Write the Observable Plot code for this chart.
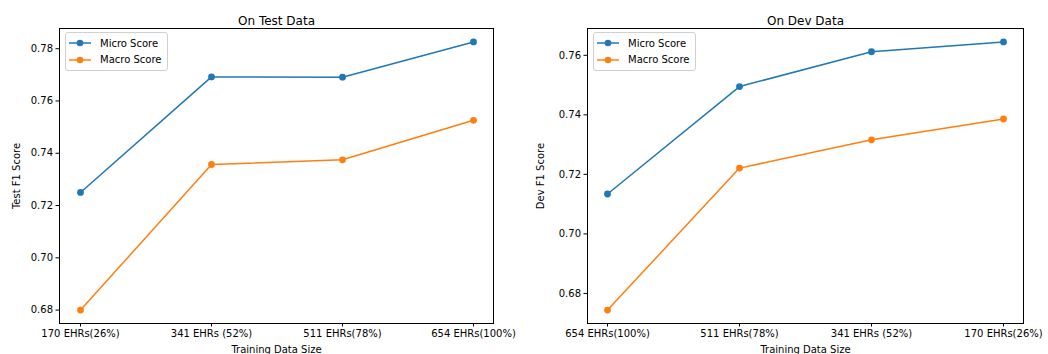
<!DOCTYPE html>
<html>
<head>
<meta charset="utf-8">
<script src="https://cdn.jsdelivr.net/npm/d3@7"></script>
<script src="https://cdn.jsdelivr.net/npm/@observablehq/plot@0.6"></script>
<style>
  html, body { margin: 0; padding: 0; background: #fff; }
  #wrap { display: flex; width: 1048px; height: 354px; overflow: hidden; }
  .panel { position: relative; width: 524px; height: 354px; }
  .legend {
    position: absolute; box-sizing: border-box;
    border: 1px solid #d0d0d0; border-radius: 3px; background: rgba(255,255,255,0.8);
    font-family: "DejaVu Sans", sans-serif; font-size: 10px; color: #000;
    padding: 2px 6px 2px 2px;
  }
  .legend .row { display: flex; align-items: center; height: 16.5px; }
  .legend svg { margin-right: 8px; }
</style>
</head>
<body>
<div id="wrap"></div>
<script>
// ---- data ----
const testLabels = ["170 EHRs(26%)", "341 EHRs (52%)", "511 EHRs(78%)", "654 EHRs(100%)"];
const testMicro  = [0.7250, 0.7692, 0.7691, 0.7826];
const testMacro  = [0.6800, 0.7357, 0.7375, 0.7526];

const devLabels  = ["654 EHRs(100%)", "511 EHRs(78%)", "341 EHRs (52%)", "170 EHRs(26%)"];
const devMicro   = [0.7134, 0.7495, 0.7612, 0.7645];
const devMacro   = [0.6744, 0.7221, 0.7316, 0.7386];

const yTicks = [0.68, 0.70, 0.72, 0.74, 0.76, 0.78];
const seriesNames = ["Micro Score", "Macro Score"];
const seriesColors = ["#1f77b4", "#ff7f0e"];

function makeRows(labels, micro, macro) {
  const rows = [];
  labels.forEach((l, i) => rows.push({x: l, y: micro[i], s: seriesNames[0]}));
  labels.forEach((l, i) => rows.push({x: l, y: macro[i], s: seriesNames[1]}));
  return rows;
}

function chart({labels, micro, macro, title, ylabel, mLeft, mRight, legendLeft}) {
  const rows = makeRows(labels, micro, macro);
  const all = micro.concat(macro);
  const lo = d3.min(all), hi = d3.max(all), pad = (hi - lo) * 0.05;
  const plot = Plot.plot({
    width: 524, height: 354,
    marginTop: 28, marginBottom: 31, marginLeft: mLeft, marginRight: mRight,
    style: {fontFamily: "DejaVu Sans, sans-serif", fontSize: "10px", color: "#000", background: "#fff"},
    x: {type: "point", domain: labels, padding: 0.15},
    y: {domain: [lo - pad, hi + pad]},
    color: {domain: seriesNames, range: seriesColors},
    marks: [
      Plot.frame({stroke: "#000", strokeWidth: 1}),
      Plot.axisX({tickSize: 3.5, tickPadding: 3, label: "Training Data Size", labelAnchor: "center", labelArrow: "none", labelOffset: 29}),
      Plot.axisY({ticks: yTicks, tickFormat: ".2f", tickSize: 3.5, tickPadding: 3, label: ylabel, labelAnchor: "center", labelArrow: "none", labelOffset: mLeft - 12}),
      Plot.line(rows, {x: "x", y: "y", z: "s", stroke: "s", strokeWidth: 1.5}),
      Plot.dot(rows, {x: "x", y: "y", fill: "s", r: 3.4}),
      Plot.text([title], {frameAnchor: "top", dy: -12, fontSize: 12, fill: "#000"})
    ]
  });
  const panel = document.createElement("div");
  panel.className = "panel";
  panel.appendChild(plot);
  const leg = document.createElement("div");
  leg.className = "legend";
  leg.style.left = legendLeft + "px";
  leg.style.top = "32px";
  seriesNames.forEach((n, i) => {
    const row = document.createElement("div");
    row.className = "row";
    row.innerHTML = `<svg width="24" height="10"><line x1="1" y1="5" x2="23" y2="5" stroke="${seriesColors[i]}" stroke-width="1.5"/><circle cx="12" cy="5" r="3.3" fill="${seriesColors[i]}"/></svg><span>${n}</span>`;
    leg.appendChild(row);
  });
  panel.appendChild(leg);
  return panel;
}

const wrap = document.getElementById("wrap");
wrap.appendChild(chart({labels: testLabels, micro: testMicro, macro: testMacro, title: "On Test Data", ylabel: "Test F1 Score", mLeft: 59, mRight: 31, legendLeft: 65}));
wrap.appendChild(chart({labels: devLabels, micro: devMicro, macro: devMacro, title: "On Dev Data", ylabel: "Dev F1 Score", mLeft: 63, mRight: 25, legendLeft: 69}));
</script>
</body>
</html>
